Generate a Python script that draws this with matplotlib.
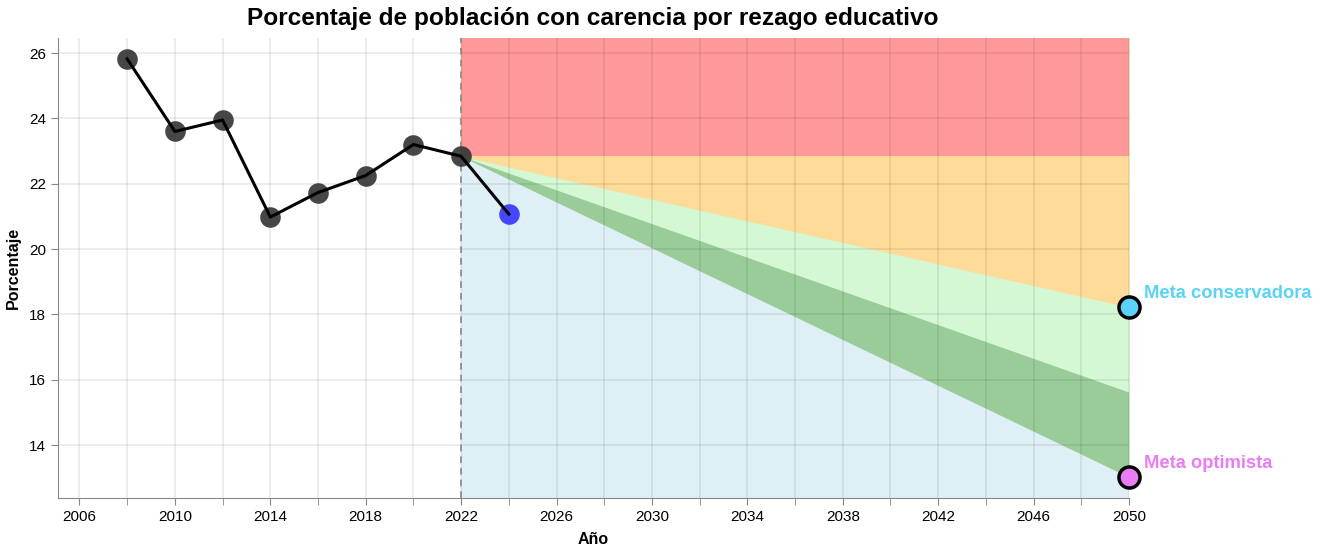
"""Porcentaje de población con carencia por rezago educativo, con metas a 2050."""

import matplotlib
matplotlib.use("Agg")
import matplotlib.pyplot as plt
import numpy as np
from matplotlib.colors import to_rgb

plt.rcParams["font.family"] = ["Liberation Sans", "DejaVu Sans"]

# observed series
years = [2008, 2010, 2012, 2014, 2016, 2018, 2020, 2022]
values = [25.82, 23.60, 23.95, 20.98, 21.73, 22.25, 23.20, 22.84]

# latest estimate (blue point)
year_latest = 2024
value_latest = 21.07

# targets for 2050
year_goal = 2050
meta_conservadora = 18.22
meta_optimista = 13.02

x_ticks = list(range(2006, 2051, 4))
y_ticks = [14, 16, 18, 20, 22, 24, 26]


def washed(name, a=0.4):
    # colour at opacity a over white, as an opaque colour (avoids seams)
    return tuple(a * c + (1 - a) for c in to_rgb(name))


fig = plt.figure(figsize=(13.26, 5.52), dpi=100)
ax = fig.add_axes([58 / 1326, 54 / 552, (1129 - 58) / 1326, (498 - 38) / 552])

ax.set_xlim(2005.1, 2050)
ax.set_ylim(12.38, 26.46)

# scenario bands from the last observed year to 2050, stacked bottom-up
base = values[-1]
y0, y1 = ax.get_ylim()
xs = np.array([years[-1], year_goal])
cons = np.array([base, meta_conservadora])
opt = np.array([base, meta_optimista])
mid = (cons + opt) / 2
top = np.array([y1, y1])
for lower, name in [(np.array([y0, y0]), "lightblue"), (opt, "green"),
                    (mid, "lightgreen"), (cons, "orange"),
                    (np.array([base, base]), "red")]:
    ax.fill_between(xs, lower, top, color=washed(name), lw=0, zorder=1)

# grid (semi-transparent so it darkens over the bands)
for x in range(2006, 2051, 2):
    ax.axvline(x, color="black", alpha=0.09, lw=1.1, zorder=1.5)
for y in y_ticks:
    ax.axhline(y, color="black", alpha=0.09, lw=1.1, zorder=1.5)

ax.axvline(years[-1], color="#888888", lw=1.2, ls=(0, (4, 3)), zorder=2)

# observed points + line
ax.scatter(years, values, s=220, color="#333333", alpha=0.9, lw=0, zorder=3)
ax.scatter([year_latest], [value_latest], s=220, color="#2a2aff", alpha=0.85, lw=0, zorder=3)
ax.plot(years + [year_latest], values + [value_latest], color="black", lw=2.2, zorder=4)

# goals
ax.scatter([year_goal], [meta_conservadora], s=230, color="#5ad2fa", edgecolor="black",
           lw=2.5, zorder=5, clip_on=False)
ax.scatter([year_goal], [meta_optimista], s=230, color="#ea7cf5", edgecolor="black",
           lw=2.5, zorder=5, clip_on=False)
ax.annotate("Meta conservadora", (year_goal, meta_conservadora), xytext=(11, 10),
            textcoords="offset points", color="#5ad2fa", fontsize=13.2,
            fontweight="bold", va="center", annotation_clip=False)
ax.annotate("Meta optimista", (year_goal, meta_optimista), xytext=(11, 10),
            textcoords="offset points", color="#ea7cf5", fontsize=13.2,
            fontweight="bold", va="center", annotation_clip=False)

# axes styling
for side in ("top", "right"):
    ax.spines[side].set_visible(False)
for side in ("left", "bottom"):
    ax.spines[side].set_color("#888888")
ax.set_xticks(range(2006, 2051, 2), minor=True)
ax.set_xticks(x_ticks)
ax.set_xticklabels([str(x) for x in x_ticks])
ax.set_yticks(y_ticks)
ax.tick_params(which="both", color="#888888", length=5, labelsize=11)
ax.tick_params(which="minor", labelbottom=False)

ax.set_xlabel("Año", fontsize=11.5, fontweight="bold", labelpad=6)
ax.set_ylabel("Porcentaje", fontsize=11.5, fontweight="bold", labelpad=6)
fig.suptitle("Porcentaje de población con carencia por rezago educativo",
             x=593 / 1326, y=1 - 18 / 552, va="center", fontsize=17.6, fontweight="bold")

fig.savefig("out.png", dpi=100)
